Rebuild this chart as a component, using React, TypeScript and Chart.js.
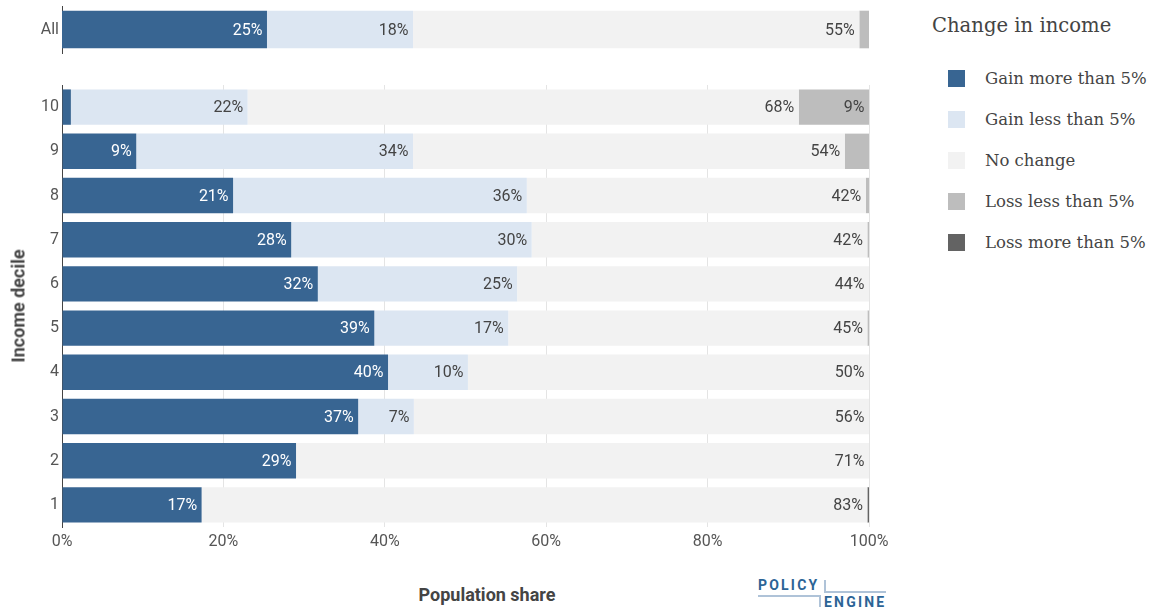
import React, { useEffect, useRef } from "react";
import { Chart, registerables } from "chart.js";

Chart.register(...registerables);

const seriesNames = [
  "Gain more than 5%",
  "Gain less than 5%",
  "No change",
  "Loss less than 5%",
  "Loss more than 5%",
];
const seriesColors = ["#386592", "#DCE6F2", "#F2F2F2", "#BDBDBD", "#636363"];

const allCategories = ["All"];
const allGainMore = [25.4];
const allGainLess = [18.1];
const allNoChange = [55.3];
const allLossLess = [1.2];
const allLossMore = [0];

const deciles = ["10", "9", "8", "7", "6", "5", "4", "3", "2", "1"];
const gainMore = [1.1, 9.2, 21.2, 28.4, 31.7, 38.7, 40.4, 36.7, 29.0, 17.3];
const gainLess = [21.9, 34.3, 36.4, 29.8, 24.7, 16.6, 9.9, 6.9, 0, 0];
const noChange = [68.3, 53.5, 42.0, 41.6, 43.6, 44.5, 49.7, 56.4, 71.0, 82.5];
const lossLess = [8.7, 3.0, 0.4, 0.2, 0, 0.2, 0, 0, 0, 0];
const lossMore = [0, 0, 0, 0, 0, 0, 0, 0, 0, 0.2];

const xTicks = [0, 20, 40, 60, 80, 100];

const TICK_FONT = { family: "Roboto", size: 16 };
const TICK_COLOR = "#555";

const barLabels = {
  id: "barLabels",
  afterDatasetsDraw(chart: any) {
    const ctx = chart.ctx;
    ctx.save();
    ctx.font = "16px Roboto";
    ctx.textAlign = "right";
    ctx.textBaseline = "middle";
    chart.data.datasets.forEach((ds: any, di: number) => {
      const meta = chart.getDatasetMeta(di);
      meta.data.forEach((el: any, i: number) => {
        const v = ds.data[i];
        if (!v) return;
        const text = Math.round(v) + "%";
        const w = el.x - el.base;
        const tw = ctx.measureText(text).width;
        if (tw + 6 > w) return;
        ctx.fillStyle = di === 0 ? "#ffffff" : "#444444";
        ctx.fillText(text, el.x - 4.5, el.y + 1);
      });
    });
    ctx.restore();
  },
};

function makeDatasets(series: number[][]) {
  return series.map((d, i) => ({
    label: seriesNames[i],
    data: d,
    backgroundColor: seriesColors[i],
    borderWidth: 0,
    barPercentage: 0.8,
    categoryPercentage: 1,
  }));
}

export default function App() {
  const allRef = useRef<HTMLCanvasElement>(null);
  const decRef = useRef<HTMLCanvasElement>(null);

  useEffect(() => {
    const gridColor = (c: any) => (c.index === 0 ? "rgba(0,0,0,0)" : "#e4e4e4");

    const chartAll = new Chart(allRef.current as HTMLCanvasElement, {
      type: "bar",
      data: {
        labels: allCategories,
        datasets: makeDatasets([allGainMore, allGainLess, allNoChange, allLossLess, allLossMore]) as any,
      },
      options: {
        indexAxis: "y",
        animation: false,
        responsive: false,
        maintainAspectRatio: false,
        layout: { padding: { top: 6, right: 31, bottom: 7, left: 0 } },
        plugins: { legend: { display: false }, tooltip: { enabled: false } },
        scales: {
          x: { stacked: true, min: 0, max: 100, display: false },
          y: {
            stacked: true,
            ticks: { font: TICK_FONT, color: TICK_COLOR, padding: 3 },
            grid: { display: false, drawTicks: false },
            border: { display: true, color: "#444", width: 1 },
            afterFit: (s: any) => {
              s.width = 62;
              s.paddingTop = 0;
              s.paddingBottom = 0;
            },
          },
        },
      } as any,
      plugins: [barLabels],
    });

    const chartDec = new Chart(decRef.current as HTMLCanvasElement, {
      type: "bar",
      data: {
        labels: deciles,
        datasets: makeDatasets([gainMore, gainLess, noChange, lossLess, lossMore]) as any,
      },
      options: {
        indexAxis: "y",
        animation: false,
        responsive: false,
        maintainAspectRatio: false,
        layout: { padding: { top: 15, right: 31, bottom: 0, left: 0 } },
        plugins: { legend: { display: false }, tooltip: { enabled: false } },
        scales: {
          x: {
            stacked: true,
            min: 0,
            max: 100,
            afterBuildTicks: (s: any) => {
              s.ticks = xTicks.map((v) => ({ value: v }));
            },
            ticks: {
              font: TICK_FONT,
              color: TICK_COLOR,
              padding: 5,
              maxRotation: 0,
              callback: (v: any) => v + "%",
            },
            grid: { color: gridColor, drawTicks: false, lineWidth: 1 },
            border: { display: false },
            afterFit: (s: any) => {
              s.height = 33;
            },
          },
          y: {
            stacked: true,
            ticks: { font: TICK_FONT, color: TICK_COLOR, padding: 3 },
            grid: { display: false, drawTicks: false },
            border: { display: true, color: "#444", width: 1 },
            afterFit: (s: any) => {
              s.width = 62;
              s.paddingTop = 0;
              s.paddingBottom = 0;
            },
          },
        },
      } as any,
      plugins: [barLabels],
    });

    return () => {
      chartAll.destroy();
      chartDec.destroy();
    };
  }, []);

  const logoBlue = "#2C6496";
  const lineBlue = "#AFC3D8";

  return (
    <div
      style={{
        position: "absolute",
        left: 0,
        top: 0,
        width: 1151,
        height: 608,
        background: "#fff",
        overflow: "hidden",
      }}
    >
      <canvas
        ref={allRef}
        width={900}
        height={60}
        style={{ position: "absolute", left: 0, top: 0, width: 900, height: 60 }}
      />
      <canvas
        ref={decRef}
        width={900}
        height={490}
        style={{ position: "absolute", left: 0, top: 70, width: 900, height: 490 }}
      />

      {/* Y axis title */}
      <div
        style={{
          position: "absolute",
          left: 18,
          top: 306,
          transform: "translate(-50%, -50%) rotate(-90deg)",
          whiteSpace: "nowrap",
          fontFamily: "Roboto",
          fontWeight: 700,
          fontSize: 18,
          color: "#444",
        }}
      >
        Income decile
      </div>

      {/* X axis title */}
      <div
        style={{
          position: "absolute",
          left: 487,
          top: 594,
          transform: "translate(-50%, -50%)",
          whiteSpace: "nowrap",
          fontFamily: "Roboto",
          fontWeight: 700,
          fontSize: 18,
          color: "#444",
        }}
      >
        Population share
      </div>

      {/* Legend */}
      <div
        style={{
          position: "absolute",
          left: 932,
          top: 25,
          transform: "translateY(-50%)",
          whiteSpace: "nowrap",
          fontFamily: "DejaVu Serif",
          fontSize: 19.6,
          color: "#444",
        }}
      >
        Change in income
      </div>
      {seriesNames.map((name, i) => (
        <div key={name}>
          <div
            style={{
              position: "absolute",
              left: 948,
              top: 78 + i * 41 - 8.5,
              width: 17,
              height: 17,
              background: seriesColors[i],
            }}
          />
          <div
            style={{
              position: "absolute",
              left: 985,
              top: 78 + i * 41,
              transform: "translateY(-50%)",
              whiteSpace: "nowrap",
              fontFamily: "DejaVu Serif",
              fontSize: 16.5,
              color: "#444",
            }}
          >
            {name}
          </div>
        </div>
      ))}

      {/* Logo */}
      <div
        style={{
          position: "absolute",
          left: 758,
          top: 577,
          fontFamily: "Roboto",
          fontWeight: 700,
          fontSize: 14,
          letterSpacing: 2.2,
          color: logoBlue,
          lineHeight: "16px",
          whiteSpace: "nowrap",
        }}
      >
        POLICY
      </div>
      <div style={{ position: "absolute", left: 824, top: 580, width: 1.5, height: 12, background: lineBlue }} />
      <div style={{ position: "absolute", left: 824, top: 591, width: 62, height: 1.5, background: lineBlue }} />
      <div style={{ position: "absolute", left: 758, top: 595, width: 62, height: 1.5, background: lineBlue }} />
      <div style={{ position: "absolute", left: 819, top: 595, width: 1.5, height: 12, background: lineBlue }} />
      <div
        style={{
          position: "absolute",
          left: 824,
          top: 594,
          fontFamily: "Roboto",
          fontWeight: 700,
          fontSize: 14,
          letterSpacing: 2.2,
          color: logoBlue,
          lineHeight: "16px",
          whiteSpace: "nowrap",
        }}
      >
        ENGINE
      </div>
    </div>
  );
}
